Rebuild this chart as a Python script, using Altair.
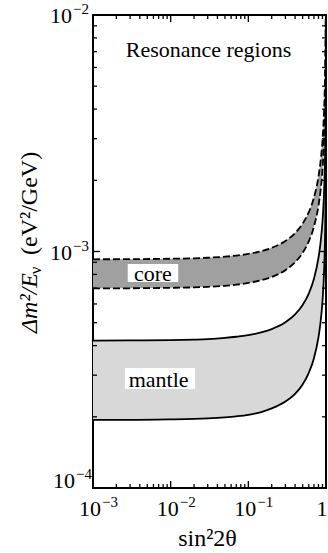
import altair as alt
import pandas as pd

# sin^2 2theta sample points
sin2 = [0.001, 0.003, 0.01, 0.02, 0.03, 0.05, 0.07, 0.1, 0.15, 0.2, 0.3, 0.4, 0.5, 0.6,
        0.7, 0.8, 0.85, 0.9, 0.93, 0.95, 0.97, 0.98, 0.99, 0.995, 0.999, 0.9997]
core_hi = [9.27e-4, 9.28e-4, 9.32e-4, 9.36e-4, 9.41e-4, 9.51e-4, 9.61e-4, 9.77e-4,
           1.006e-3, 1.036e-3, 1.108e-3, 1.197e-3, 1.311e-3, 1.466e-3, 1.693e-3,
           2.073e-3, 2.393e-3, 2.931e-3, 3.504e-3, 4.146e-3, 5.352e-3, 6.555e-3,
           9.27e-3, 1.311e-2, 2.931e-2, 5.35e-2]
core_lo = [6.98e-4, 6.99e-4, 7.02e-4, 7.05e-4, 7.09e-4, 7.16e-4, 7.24e-4, 7.36e-4,
           7.57e-4, 7.80e-4, 8.34e-4, 9.01e-4, 9.87e-4, 1.104e-3, 1.275e-3,
           1.561e-3, 1.802e-3, 2.207e-3, 2.638e-3, 3.122e-3, 4.030e-3, 4.936e-3,
           6.98e-3, 9.87e-3, 2.207e-2, 4.03e-2]
mantle_hi = [4.20e-4, 4.21e-4, 4.22e-4, 4.24e-4, 4.26e-4, 4.31e-4, 4.36e-4, 4.43e-4,
             4.56e-4, 4.70e-4, 5.02e-4, 5.42e-4, 5.94e-4, 6.64e-4, 7.67e-4,
             9.39e-4, 1.084e-3, 1.328e-3, 1.588e-3, 1.878e-3, 2.425e-3, 2.970e-3,
             4.20e-3, 5.94e-3, 1.328e-2, 2.42e-2]
mantle_lo = [1.94e-4, 1.94e-4, 1.95e-4, 1.96e-4, 1.97e-4, 1.99e-4, 2.01e-4, 2.04e-4,
             2.10e-4, 2.17e-4, 2.32e-4, 2.50e-4, 2.74e-4, 3.07e-4, 3.54e-4,
             4.34e-4, 5.01e-4, 6.13e-4, 7.33e-4, 8.68e-4, 1.120e-3, 1.372e-3,
             1.94e-3, 2.74e-3, 6.13e-3, 1.12e-2]

# tick values
x_major = [0.001, 0.01, 0.1, 1.0]
x_minor = [m * d for d in [0.001, 0.01, 0.1] for m in range(2, 10)]
y_major = [1e-4, 1e-3, 1e-2]
y_minor = [m * d for d in [1e-4, 1e-3] for m in range(2, 10)]
x_lab_vals = [0.001, 0.01, 0.1]
x_lab_exp = ["\u22123", "\u22122", "\u22121"]
y_lab_vals = [1e-3, 1e-2]
y_lab_exp = ["\u22123", "\u22122"]

# annotations (data coordinates)
band_labels = ["core", "mantle"]
band_lab_x = [5.9e-3, 7.0e-3]
band_lab_y = [8.07e-4, 2.86e-4]
box_x1 = [2.80e-3, 2.58e-3]
box_x2 = [1.25e-2, 2.06e-2]
box_y1 = [7.43e-4, 2.62e-4]
box_y2 = [8.85e-4, 3.22e-4]
title_text = ["Resonance regions"]
title_x = [0.0307]
title_y = [6.64e-3]

W, H = 233, 473
FONT = "Liberation Serif"

df = pd.DataFrame({"x": sin2, "chi": core_hi, "clo": core_lo, "mhi": mantle_hi, "mlo": mantle_lo})
xs = alt.Scale(type="log", domain=[1e-3, 1], nice=False)
ys = alt.Scale(type="log", domain=[1e-4, 1e-2], nice=False)

base = alt.Chart(df)
X = alt.X("x:Q", scale=xs, axis=None)

core_area = base.mark_area(color="#a0a0a0", clip=True, interpolate="monotone").encode(
    x=X, y=alt.Y("clo:Q", scale=ys, axis=None), y2="chi:Q")
mantle_area = base.mark_area(color="#d8d8d8", clip=True, interpolate="monotone").encode(
    x=X, y=alt.Y("mlo:Q", scale=ys, axis=None), y2="mhi:Q")

def line(field, dashed):
    kw = dict(color="black", clip=True, strokeWidth=1.8, interpolate="monotone")
    if dashed:
        kw["strokeDash"] = [7, 3]
    return base.mark_line(**kw).encode(x=X, y=alt.Y(f"{field}:Q", scale=ys, axis=None))

lines = [line("chi", True), line("clo", True), line("mhi", False), line("mlo", False)]

boxes = alt.Chart(pd.DataFrame({"x1": box_x1, "x2": box_x2, "y1": box_y1, "y2": box_y2})).mark_rect(
    color="white").encode(
    x=alt.X("x1:Q", scale=xs, axis=None), x2="x2:Q",
    y=alt.Y("y1:Q", scale=ys, axis=None), y2="y2:Q")

band_text = alt.Chart(pd.DataFrame({"t": band_labels, "x": band_lab_x, "y": band_lab_y})).mark_text(
    font=FONT, fontSize=22, color="black", baseline="middle", align="center").encode(
    x=alt.X("x:Q", scale=xs, axis=None), y=alt.Y("y:Q", scale=ys, axis=None), text="t:N")

title_mark = alt.Chart(pd.DataFrame({"t": title_text, "x": title_x, "y": title_y})).mark_text(
    font=FONT, fontSize=22, color="black", baseline="alphabetic", align="center").encode(
    x=alt.X("x:Q", scale=xs, axis=None), y=alt.Y("y:Q", scale=ys, axis=None), text="t:N")

# ticks (inward)
def xticks(vals, ln):
    d = alt.Chart(pd.DataFrame({"v": vals}))
    xe = alt.X("v:Q", scale=xs, axis=None)
    b = d.mark_rule(color="black", strokeWidth=1.3).encode(x=xe, y=alt.value(H), y2=alt.value(H - ln))
    t = d.mark_rule(color="black", strokeWidth=1.3).encode(x=xe, y=alt.value(0), y2=alt.value(ln))
    return [b, t]

def yticks(vals, ln):
    d = alt.Chart(pd.DataFrame({"v": vals}))
    ye = alt.Y("v:Q", scale=ys, axis=None)
    l = d.mark_rule(color="black", strokeWidth=1.3).encode(y=ye, x=alt.value(0), x2=alt.value(ln))
    r = d.mark_rule(color="black", strokeWidth=1.3).encode(y=ye, x=alt.value(W), x2=alt.value(W - ln))
    return [l, r]

ticks = xticks(x_major, 7) + xticks(x_minor, 4) + yticks(y_major, 7) + yticks(y_minor, 4)

# x tick labels
xl = alt.Chart(pd.DataFrame({"v": x_lab_vals, "e": x_lab_exp}))
xl_base = xl.mark_text(font=FONT, fontSize=22, align="center", baseline="alphabetic", dx=-3, text="10").encode(
    x=alt.X("v:Q", scale=xs, axis=None), y=alt.value(H + 28))
xl_exp = xl.mark_text(font=FONT, fontSize=15, align="left", baseline="alphabetic", dx=9).encode(
    x=alt.X("v:Q", scale=xs, axis=None), y=alt.value(H + 19), text="e:N")
xl_one = alt.Chart(pd.DataFrame({"v": [1.0]})).mark_text(
    font=FONT, fontSize=22, align="center", baseline="alphabetic", dx=-4, text="1").encode(
    x=alt.X("v:Q", scale=xs, axis=None), y=alt.value(H + 28))

# y tick labels
yl = alt.Chart(pd.DataFrame({"v": y_lab_vals, "e": y_lab_exp}))
yl_base = yl.mark_text(font=FONT, fontSize=22, align="right", baseline="middle", dy=1, text="10").encode(
    y=alt.Y("v:Q", scale=ys, axis=None), x=alt.value(-21))
yl_exp = yl.mark_text(font=FONT, fontSize=15, align="left", baseline="middle", dy=-6).encode(
    y=alt.Y("v:Q", scale=ys, axis=None), x=alt.value(-20), text="e:N")
yl4 = alt.Chart(pd.DataFrame({"v": [1e-4], "e": ["\u22124"]}))
yl4_base = yl4.mark_text(font=FONT, fontSize=22, align="right", baseline="alphabetic", text="10").encode(
    y=alt.Y("v:Q", scale=ys, axis=None), x=alt.value(-18))
yl4_exp = yl4.mark_text(font=FONT, fontSize=15, align="left", baseline="alphabetic", dy=-9).encode(
    y=alt.Y("v:Q", scale=ys, axis=None), x=alt.value(-17), text="e:N")

# axis titles
xtitle = alt.Chart(pd.DataFrame({"t": ["sin\u00b22\u03b8"]})).mark_text(
    font=FONT, fontSize=24, align="center", baseline="alphabetic").encode(
    x=alt.value(W / 2 - 2), y=alt.value(H + 58), text="t:N")
yt1 = alt.Chart(pd.DataFrame({"t": ["\u0394m\u00b2/E"]})).mark_text(
    font=FONT, fontSize=24, fontStyle="italic", align="left", baseline="middle", angle=270).encode(
    x=alt.value(-63), y=alt.value(318), text="t:N")
yt2 = alt.Chart(pd.DataFrame({"t": ["\u03bd"]})).mark_text(
    font=FONT, fontSize=16, align="left", baseline="middle", angle=270).encode(
    x=alt.value(-57), y=alt.value(259), text="t:N")
yt3 = alt.Chart(pd.DataFrame({"t": ["(eV\u00b2/GeV)"]})).mark_text(
    font=FONT, fontSize=24, align="left", baseline="middle", angle=270).encode(
    x=alt.value(-63), y=alt.value(240), text="t:N")

chart = alt.layer(
    mantle_area, core_area, *lines, boxes, band_text, title_mark, *ticks,
    xl_base, xl_exp, xl_one, yl_base, yl_exp, yl4_base, yl4_exp, xtitle, yt1, yt2, yt3
).properties(
    width=W, height=H,
    autosize=alt.AutoSizeParams(type="none"),
    padding={"left": 93, "top": 15, "right": 2, "bottom": 65},
).configure_view(stroke="black", strokeWidth=2)

chart.save("out.html", embed_options={"renderer": "svg", "actions": False})
